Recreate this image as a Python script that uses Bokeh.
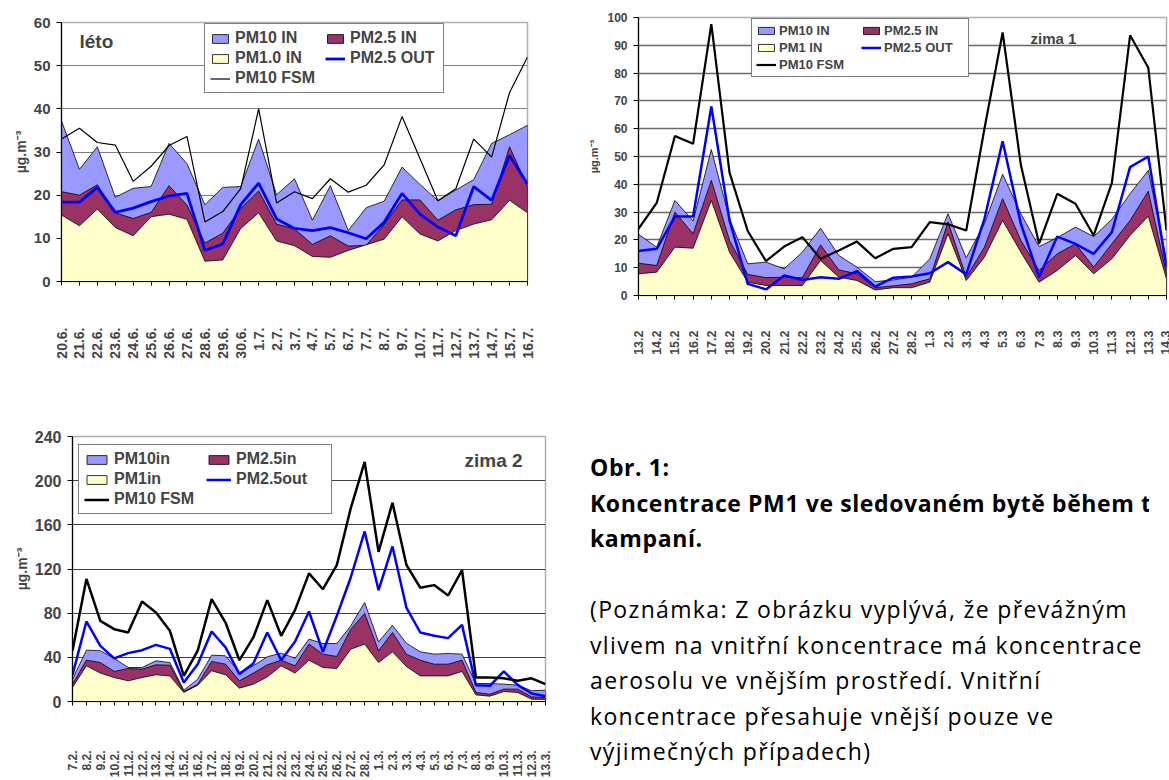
import math
from bokeh.plotting import figure
from bokeh.models import Range1d, Legend, LegendItem, Label, Div, FixedTicker, SingleIntervalTicker
from bokeh.layouts import row, column
from bokeh.embed import file_html
from bokeh.resources import INLINE

# ---------------- data ----------------
leto_dates = ["20.6.", "21.6.", "22.6.", "23.6.", "24.6.", "25.6.", "26.6.", "27.6.", "28.6.", "29.6.",
              "30.6.", "1.7.", "2.7.", "3.7.", "4.7.", "5.7.", "6.7.", "7.7.", "8.7.", "9.7.",
              "10.7.", "11.7.", "12.7.", "13.7.", "14.7.", "15.7.", "16.7."]
leto_pm10_in = [37.2, 26.0, 31.2, 19.5, 21.6, 22.0, 32.0, 27.3, 17.8, 21.8, 22.0, 33.0, 20.1, 23.8, 14.2,
                22.2, 11.8, 17.1, 18.6, 26.5, 22.5, 18.7, 21.2, 23.6, 32.0, 34.0, 36.2]
leto_pm25_in = [20.8, 20.0, 22.4, 15.9, 14.6, 16.0, 22.2, 17.7, 8.9, 11.2, 16.9, 21.0, 13.3, 12.2, 8.6,
                10.6, 8.2, 8.4, 13.2, 18.9, 18.9, 14.2, 16.6, 17.8, 17.9, 31.2, 22.0]
leto_pm1_in = [15.4, 12.9, 16.8, 12.5, 10.6, 15.0, 15.6, 14.4, 4.7, 5.0, 12.3, 15.9, 9.4, 8.3, 5.8,
               5.6, 7.2, 8.5, 9.8, 15.0, 11.0, 9.4, 11.8, 13.3, 14.3, 18.8, 15.9]
leto_pm25_out = [18.4, 18.4, 21.8, 16.0, 17.0, 18.5, 19.8, 20.4, 7.2, 8.7, 17.8, 22.8, 14.5, 12.3, 11.8,
                 12.5, 11.3, 9.9, 13.7, 20.4, 15.6, 12.6, 10.6, 22.0, 18.8, 29.2, 22.6]
leto_pm10_fsm = [33.0, 35.5, 32.2, 31.6, 23.2, 26.7, 31.5, 33.6, 13.8, 16.2, 21.5, 40.0, 18.2, 20.8, 19.2,
                 23.8, 20.7, 22.3, 27.0, 38.2, 28.5, 18.7, 21.5, 33.0, 28.8, 43.8, 52.0]
leto_names = ["PM10 IN", "PM2.5 IN", "PM1.0 IN", "PM2.5 OUT", "PM10 FSM"]

z1_dates = ["13.2", "14.2", "15.2", "16.2", "17.2", "18.2", "19.2", "20.2", "21.2", "22.2", "23.2", "24.2",
            "25.2", "26.2", "27.2", "28.2", "1.3", "2.3", "3.3", "4.3", "5.3", "6.3", "7.3", "8.3", "9.3",
            "10.3", "11.3", "12.3", "13.3", "14.3"]
z1_pm10_in = [22.0, 17.4, 34.2, 26.8, 52.5, 27.6, 11.4, 12.0, 9.6, 15.6, 24.2, 14.4, 10.2, 5.0, 5.6,
              6.6, 13.2, 29.4, 13.6, 25.8, 43.6, 29.4, 17.6, 20.8, 24.6, 21.2, 27.4, 36.6, 45.0, 12.6]
z1_pm25_in = [11.6, 10.8, 30.0, 22.2, 41.4, 19.8, 7.6, 6.4, 6.6, 6.4, 18.2, 9.2, 7.8, 2.8, 3.5,
              4.2, 6.0, 26.5, 6.6, 17.4, 34.8, 19.8, 9.0, 15.0, 18.6, 10.2, 18.6, 27.0, 37.5, 7.8]
z1_pm1_in = [7.8, 8.4, 17.4, 17.0, 34.2, 15.6, 4.8, 3.6, 3.6, 3.6, 12.6, 6.6, 5.4, 2.0, 2.8,
             2.8, 4.8, 22.2, 5.4, 13.8, 27.0, 15.6, 4.8, 9.0, 14.4, 7.8, 13.2, 21.6, 28.5, 6.0]
z1_pm25_out = [16.0, 16.8, 28.4, 28.4, 68.0, 27.0, 4.2, 2.2, 7.2, 5.6, 6.6, 6.0, 8.8, 3.2, 6.4,
               6.8, 8.0, 12.0, 7.6, 27.6, 55.5, 25.8, 6.6, 21.2, 18.6, 15.0, 22.8, 46.2, 50.0, 10.2]
z1_pm10_fsm = [24.0, 33.3, 57.4, 54.6, 97.6, 44.2, 23.2, 12.4, 17.6, 21.0, 13.2, 16.2, 19.4, 13.4, 16.8,
               17.4, 26.4, 25.6, 23.4, 60.0, 94.6, 47.0, 18.6, 36.6, 33.0, 21.6, 40.5, 93.6, 81.9, 23.4]
z1_names = ["PM10 IN", "PM2.5 IN", "PM1 IN", "PM2.5 OUT", "PM10 FSM"]

z2_dates = ["7.2.", "8.2.", "9.2.", "10.2.", "11.2.", "12.2.", "13.2.", "14.2.", "15.2.", "16.2.", "17.2.",
            "18.2.", "19.2.", "20.2.", "21.2.", "22.2.", "23.2.", "24.2.", "25.2.", "26.2.", "27.2.", "28.2.",
            "1.3.", "2.3.", "3.3.", "4.3.", "5.3.", "6.3.", "7.3.", "8.3.", "9.3.", "10.3.", "11.3.",
            "12.3.", "13.3."]
z2_pm10_in = [20.2, 46.5, 46.0, 39.0, 30.8, 30.8, 36.8, 35.3, 10.3, 20.2, 42.0, 41.4, 26.3, 32.3, 40.5,
              43.8, 39.2, 56.5, 52.5, 52.5, 68.5, 89.7, 54.0, 69.0, 52.8, 45.0, 42.9, 43.5, 42.9, 16.3,
              16.3, 15.7, 14.8, 9.7, 10.3]
z2_pm25_in = [15.7, 37.4, 35.3, 27.2, 29.9, 29.3, 33.2, 32.9, 9.0, 15.7, 36.2, 33.8, 18.7, 25.7, 33.2,
              37.4, 32.3, 52.0, 42.9, 40.8, 65.5, 79.7, 45.9, 62.5, 42.9, 37.4, 33.8, 33.8, 37.4, 8.2,
              6.6, 11.2, 11.2, 4.2, 3.6]
z2_pm1_in = [12.7, 32.3, 25.7, 21.7, 18.7, 21.7, 24.2, 23.2, 8.2, 14.8, 27.8, 24.2, 12.1, 15.7, 22.3,
             32.3, 25.7, 37.4, 30.8, 29.9, 47.4, 52.0, 35.3, 45.0, 31.7, 23.2, 23.2, 23.2, 27.2, 6.0,
             4.8, 9.0, 8.2, 2.1, 1.8]
z2_pm25_out = [24.0, 72.5, 50.4, 39.0, 43.8, 46.5, 51.3, 47.7, 17.2, 33.8, 63.4, 49.0, 24.8, 34.4, 62.5,
               37.4, 54.3, 81.5, 45.0, 77.6, 112.3, 154.0, 100.8, 140.4, 85.1, 62.5, 59.5, 57.4, 69.4, 14.8,
               14.2, 27.2, 15.1, 7.2, 4.8]
z2_pm10_fsm = [46.0, 111.0, 73.0, 65.5, 62.5, 90.5, 80.6, 64.0, 23.2, 46.0, 92.7, 71.5, 37.4, 58.0, 91.8,
               59.5, 83.0, 116.0, 101.7, 123.5, 175.0, 217.0, 135.5, 180.0, 123.8, 103.0, 105.4, 96.0, 119.0,
               21.7, 21.7, 21.0, 18.7, 21.0, 15.7]
z2_names = ["PM10in", "PM2.5in", "PM1in", "PM2.5out", "PM10 FSM"]

caption_title = "Obr. 1:"
caption_heading = ["Koncentrace PM1 ve sledovaném bytě během tří", "kampaní."]
caption_note = ["(Poznámka: Z obrázku vyplývá, že převážným",
                "vlivem na vnitřní koncentrace má koncentrace",
                "aerosolu ve vnějším prostředí. Vnitřní",
                "koncentrace přesahuje vnější pouze ve",
                "výjimečných případech)"]

# ---------------- styling ----------------
C_PM10 = "#9999FF"
C_PM25 = "#993366"
C_PM1 = "#FFFFCC"
C_OUT = "#0000FF"
FONT = "Liberation Sans"


def area(p, x, y, color):
    xs = list(x) + [x[-1], x[0]]
    ys = list(y) + [0, 0]
    return p.patch(xs, ys, fill_color=color, line_color="black", line_width=0.8)


def chart(dates, pm10, pm25, pm1, out, fsm, names, ymax, step, title, s):
    n = len(dates)
    x = list(range(n))
    p = figure(width=s["w"], height=s["h"], x_range=Range1d(0, n - 1), y_range=Range1d(0, ymax),
               output_backend="svg", toolbar_location=None,
               min_border_left=s["bl"], min_border_right=s["br"],
               min_border_top=s["bt"], min_border_bottom=s["bb"])
    p.background_fill_color = "white"
    p.border_fill_color = "white"
    p.outline_line_color = "#B0B0B0"
    p.outline_line_width = 1.5

    r1 = area(p, x, pm10, C_PM10)
    r2 = area(p, x, pm25, C_PM25)
    r3 = area(p, x, pm1, C_PM1)
    r4 = p.line(x, out, line_color=C_OUT, line_width=s["ow"])
    r5 = p.line(x, fsm, line_color="black", line_width=s["fw"])

    items = [LegendItem(label=names[0], renderers=[r1]),
             LegendItem(label=names[2], renderers=[r3]),
             LegendItem(label=names[4], renderers=[r5]),
             LegendItem(label=names[1], renderers=[r2]),
             LegendItem(label=names[3], renderers=[r4])]
    lg = Legend(items=items, location=s["loc"], ncols=2,
                label_text_font=FONT, label_text_font_style="bold",
                label_text_font_size=s["lf"], glyph_width=s["gw"], glyph_height=s["gh"],
                label_standoff=s["ls"], spacing=s["sp"], padding=s["pad"], margin=0,
                label_width=s["lw"], label_height=s["lh"],
                border_line_color="black", border_line_width=1.2,
                background_fill_color="white", background_fill_alpha=1.0)
    p.add_layout(lg)

    p.add_layout(Label(x=s["tx"], y=s["ty"], x_units="screen", y_units="screen", text=title,
                       text_font=FONT, text_font_style="bold", text_font_size=s["tf"],
                       text_baseline="middle"))

    xa = p.xaxis[0]
    xa.ticker = FixedTicker(ticks=x)
    xa.major_label_overrides = {i: d for i, d in enumerate(dates)}
    xa.major_label_orientation = math.pi / 2
    xa.major_label_standoff = s["xs"]
    xa.major_label_text_font = FONT
    xa.major_label_text_font_style = "bold"
    xa.major_label_text_font_size = s["xf"]
    xa.minor_tick_line_color = None
    xa.major_tick_in = 0
    xa.major_tick_out = 4
    xa.axis_line_color = "black"
    xa.axis_line_width = 1.2

    ya = p.yaxis[0]
    ya.ticker = SingleIntervalTicker(interval=step)
    ya.major_label_text_font = FONT
    ya.major_label_text_font_style = "bold"
    ya.major_label_text_font_size = s["yf"]
    ya.major_label_standoff = 6
    ya.minor_tick_line_color = None
    ya.major_tick_in = 0
    ya.major_tick_out = 5
    ya.axis_line_color = "black"
    ya.axis_line_width = 1.2
    ya.axis_label = "µg.m⁻³"
    ya.axis_label_text_font = FONT
    ya.axis_label_text_font_style = "bold"
    ya.axis_label_text_font_size = s["af"]
    ya.axis_label_standoff = s["as"]

    p.xgrid.visible = False
    p.ygrid.grid_line_color = s["gc"]
    p.ygrid.grid_line_width = s["gwid"]
    return p


p1 = chart(leto_dates, leto_pm10_in, leto_pm25_in, leto_pm1_in, leto_pm25_out, leto_pm10_fsm,
           leto_names, 60, 10, "léto",
           dict(w=560, h=420, bl=61, br=33, bt=22, bb=139, ow=2.8, fw=1.2,
                loc=(143, 188), lf="16px", gw=20, gh=11, ls=5, sp=2, pad=5, lw=88, lh=15,
                tx=18, ty=240, tf="19px", xs=42, xf="14px", yf="15px", af="14px", **{"as": 2},
                gc="#808080", gwid=1.2))

p2 = chart(z1_dates, z1_pm10_in, z1_pm25_in, z1_pm1_in, z1_pm25_out, z1_pm10_fsm,
           z1_names, 100, 10, "zima 1",
           dict(w=609, h=420, bl=78, br=3, bt=17, bb=125, ow=2.5, fw=2.2,
                loc=(113, 218), lf="13px", gw=20, gh=9, ls=3, sp=2, pad=4, lw=80, lh=13,
                tx=392, ty=257, tf="15px", xs=31, xf="12.5px", yf="12px", af="11px", **{"as": 4},
                gc="#6A6A6A", gwid=1.6))

p3 = chart(z2_dates, z2_pm10_in, z2_pm25_in, z2_pm1_in, z2_pm25_out, z2_pm10_fsm,
           z2_names, 240, 40, "zima 2",
           dict(w=560, h=360, bl=72, br=15, bt=16, bb=79, ow=2.5, fw=2.5,
                loc=(6, 187), lf="16px", gw=25, gh=11, ls=5, sp=2, pad=5, lw=90, lh=16,
                tx=392, ty=241, tf="19px", xs=45, xf="12px", yf="16px", af="14px", **{"as": 2},
                gc="#404040", gwid=1.2))

html = ('<div style="font-family:\'Open Sans\', sans-serif; font-size:23px; line-height:35.5px; color:#000;'
        'white-space:nowrap; overflow:hidden; padding:25px 0 0 25px; width:584px;">'
        f'<b style="letter-spacing:0.6px">{caption_title}</b><br>'
        + "".join(f'<b style="letter-spacing:0.6px">{t}</b><br>' for t in caption_heading)
        + '<br><span style="letter-spacing:1.35px">'
        + "<br>".join(caption_note) + "</span></div>")
div = Div(text=html, width=609, height=360, styles={"overflow": "hidden"})

layout = column(row(column(p1), column(p2)), row(column(p3), div))
open("out.html", "w").write(file_html(layout, INLINE))
